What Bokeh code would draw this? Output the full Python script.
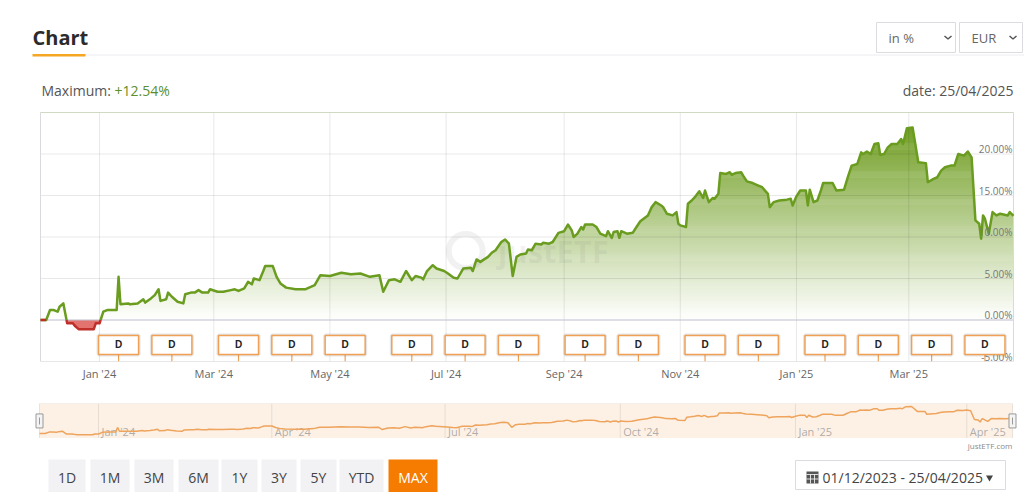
import numpy as np
import pandas as pd
from bokeh.plotting import figure
from bokeh.models import Range1d, FixedTicker
from bokeh.layouts import column
from bokeh.embed import file_html
from bokeh.resources import INLINE
from bokeh.core.properties import value

# ---------------- data ----------------
START = "2023-12-01"
END = "2025-04-25"
day_offsets = [0, 3, 5, 7, 9, 10, 12, 14, 17, 18, 20, 28, 29, 31, 33, 35, 40, 41, 42, 46,
               47, 51, 54, 55, 58, 60, 62, 63, 66, 67, 69, 72, 75, 76, 79, 81, 83, 85, 88, 89,
               93, 96, 100, 102, 104, 107, 109, 111, 112, 115, 117, 118, 122, 124, 126, 129, 134, 139, 144, 147,
               152, 158, 163, 168, 173, 178, 180, 183, 186, 189, 192, 195, 197, 200, 201, 203, 206, 208, 212, 214,
               217, 219, 222, 226, 227, 229, 231, 235, 237, 239, 242, 244, 246, 248, 250, 252, 255, 256, 258, 260,
               263, 264, 267, 269, 272, 275, 277, 279, 280, 282, 284, 285, 286, 290, 292, 294, 297, 298, 300, 301,
               303, 304, 305, 308, 311, 313, 315, 319, 321, 323, 326, 327, 329, 332, 334, 335, 336, 339, 340, 342,
               344, 346, 348, 349, 351, 353, 354, 356, 357, 360, 362, 363, 365, 368, 369, 371, 374, 377, 379, 382,
               383, 385, 388, 392, 394, 395, 397, 399, 402, 403, 404, 406, 408, 410, 411, 416, 418, 422, 424, 426,
               429, 431, 432, 434, 436, 438, 440, 441, 443, 445, 447, 450, 452, 453, 455, 458, 461, 465, 466, 469,
               471, 473, 475, 478, 480, 482, 485, 487, 489, 491, 493, 494, 495, 496, 498, 500, 502, 504, 508, 509,
               511]
perf_pct = [0.0, 0.0, 1.2, 1.2, 1.0, 1.6, 2.0, -0.4, -0.4, -0.7, -1.1, -1.1, -0.4, -0.4, 1.0, 1.2, 1.2, 5.2, 1.9, 2.0,
            1.9, 2.0, 2.5, 2.1, 2.6, 3.0, 3.7, 2.3, 2.5, 3.3, 2.8, 2.2, 2.0, 3.1, 3.3, 3.3, 3.6, 3.3, 3.3, 3.7,
            3.4, 3.4, 3.6, 3.7, 3.5, 3.8, 4.6, 4.3, 5.0, 4.8, 5.9, 6.5, 6.5, 5.2, 4.4, 3.9, 3.7, 3.7, 4.2, 5.4,
            5.3, 5.7, 5.5, 5.6, 5.2, 5.4, 3.4, 4.8, 4.9, 4.6, 5.9, 4.8, 5.3, 5.1, 4.9, 5.9, 6.6, 6.2, 5.9, 5.6,
            5.1, 5.0, 6.2, 6.3, 5.9, 7.3, 7.0, 7.6, 8.1, 8.4, 9.4, 9.7, 9.2, 5.3, 7.6, 7.9, 8.0, 8.5, 8.4, 9.2,
            9.1, 9.3, 9.2, 9.4, 10.5, 10.7, 11.5, 10.8, 10.0, 10.4, 11.2, 10.9, 11.5, 11.5, 11.2, 10.4, 10.1, 10.7, 9.9, 10.6,
            10.7, 9.9, 10.7, 10.4, 10.5, 11.2, 11.9, 12.6, 13.6, 14.2, 13.8, 13.6, 12.8, 12.6, 13.0, 11.6, 11.4, 11.2, 14.0, 14.4,
            14.9, 15.5, 14.7, 15.6, 14.2, 14.7, 14.6, 15.2, 17.7, 17.6, 17.8, 17.5, 17.7, 17.8, 17.4, 16.7, 16.5, 16.2, 16.0, 15.2,
            13.6, 14.2, 14.4, 14.5, 14.6, 13.8, 14.9, 15.6, 15.6, 13.8, 15.7, 14.2, 14.4, 15.7, 16.5, 16.5, 15.6, 15.7, 17.2, 18.6,
            18.8, 20.2, 20.0, 20.3, 20.0, 21.2, 21.3, 19.9, 20.0, 20.8, 21.2, 21.2, 21.8, 21.2, 23.1, 23.2, 19.0, 18.9, 16.6, 17.0,
            17.2, 18.0, 18.4, 18.6, 18.6, 20.0, 19.8, 20.3, 19.6, 12.0, 11.6, 9.8, 12.6, 12.2, 10.4, 13.0, 12.6, 12.8, 12.6, 13.0,
            12.54]
dividend_dates = ["2024-01-11", "2024-02-08", "2024-03-14", "2024-04-11", "2024-05-09", "2024-06-13",
                  "2024-07-11", "2024-08-08", "2024-09-12", "2024-10-10", "2024-11-14", "2024-12-12",
                  "2025-01-16", "2025-02-13", "2025-03-13", "2025-04-10"]
y_ticks = [-5, 0, 5, 10, 15, 20]
y_tick_labels = ["-5.00%", "0.00%", "5.00%", "10.00%", "15.00%", "20.00%"]
x_tick_dates = ["2024-01-01", "2024-03-01", "2024-05-01", "2024-07-01", "2024-09-01",
                "2024-11-01", "2025-01-01", "2025-03-01"]
x_tick_labels = ["Jan '24", "Mar '24", "May '24", "Jul '24", "Sep '24", "Nov '24", "Jan '25", "Mar '25"]
nav_tick_dates = ["2024-01-01", "2024-04-01", "2024-07-01", "2024-10-01", "2025-01-01", "2025-04-01"]
nav_tick_labels = ["Jan '24", "Apr '24", "Jul '24", "Oct '24", "Jan '25", "Apr '25"]
range_buttons = ["1D", "1M", "3M", "6M", "1Y", "3Y", "5Y", "YTD", "MAX"]
max_label = "+12.54%"
date_label = "date: 25/04/2025"
period_label = "01/12/2023 - 25/04/2025"

FONT = value("Open Sans")
EPOCH = pd.Timestamp("1970-01-01")
MS = pd.Timedelta(milliseconds=1)
W = 1024


def to_ms(d):
    return ((pd.to_datetime(pd.Series(d)) - EPOCH) / MS).to_numpy(dtype=float)


start_ms = float(to_ms([START])[0])
end_ms = float(to_ms([END])[0])
xs = start_ms + np.array(day_offsets, dtype=float) * 86400000.0
ys = np.array(perf_pct, dtype=float)

# insert zero crossings so line zones split at the threshold
cx, cy = [xs[0]], [ys[0]]
for i in range(1, len(xs)):
    y0, y1 = ys[i - 1], ys[i]
    if (y0 < 0 < y1) or (y1 < 0 < y0):
        t = y0 / (y0 - y1)
        cx.append(xs[i - 1] + t * (xs[i] - xs[i - 1]))
        cy.append(0.0)
    cx.append(xs[i])
    cy.append(ys[i])
cx = np.array(cx)
cy = np.array(cy)


def padded_range(left_px, right_px):
    # the frame spans the full canvas width; map the data span onto [left_px, right_px]
    mpp = (end_ms - start_ms) / (right_px - left_px)
    return Range1d(start_ms - left_px * mpp, end_ms + (W - right_px) * mpp)


def bare(fig):
    fig.outline_line_color = None
    fig.grid.visible = False
    return fig


# ---------------- header ----------------
hdr = bare(figure(width=W, height=104, x_range=Range1d(0, W), y_range=Range1d(104, 0),
                  output_backend="svg", toolbar_location=None, x_axis_location=None,
                  y_axis_location=None, min_border=0))
hdr.text(x=[32], y=[37], text=["Chart"], text_font=FONT, text_font_size="20px",
         text_font_style="bold", text_color="#2b2b2b", text_baseline="middle")
hdr.segment(x0=[85], y0=[54.5], x1=[W], y1=[54.5], line_color="#ececf0", line_width=1)
hdr.segment(x0=[32], y0=[54.7], x1=[85], y1=[54.7], line_color="#f5a623", line_width=2.5)
hdr.quad(left=[876, 959], right=[955, 1022], top=[22, 22], bottom=[52, 52],
         fill_color="white", line_color="#dcdce0", line_width=1)
hdr.text(x=[888, 971], y=[37.5, 37.5], text=["in %", "EUR"], text_font=FONT, text_font_size="13px",
         text_color="#666666", text_baseline="middle")
hdr.multi_line(xs=[[944, 947.5, 951], [1009, 1012.5, 1016]], ys=[[35.5, 38.5, 35.5], [35.5, 38.5, 35.5]],
               line_color="#555555", line_width=1.5)
hdr.text(x=[41], y=[90], text=["Maximum:"], text_font=FONT, text_font_size="14px",
         text_color="#555555", text_baseline="middle")
hdr.text(x=[114], y=[90], text=[max_label], text_font=FONT, text_font_size="14px",
         text_color="#5d8f2b", text_baseline="middle")
hdr.text(x=[1013], y=[90], text=[date_label], text_font=FONT, text_font_size="14px",
         text_color="#555555", text_baseline="middle", text_align="right")

# ---------------- main chart ----------------
p = figure(width=W, height=286, x_axis_type="datetime",
           x_range=padded_range(40, 1013), y_range=Range1d(-5, 25),
           output_backend="svg", toolbar_location=None, y_axis_location=None,
           min_border_left=0, min_border_right=0, min_border_top=8, min_border_bottom=29)
p.grid.grid_line_color = None
p.outline_line_color = None

# vertical gradient fill (absolute to plot), then white mask above the line
n = 200
edges = np.linspace(0, 25, n + 1)
mids = (edges[:-1] + edges[1:]) / 2
G = np.array([104, 152, 22], dtype=float)
cols = []
for m in mids:
    t = m / 25.0
    c = 255 * (1 - t) + G * t
    cols.append("#%02x%02x%02x" % tuple(int(round(v)) for v in c))
p.quad(left=start_ms, right=end_ms, bottom=edges[:-1], top=edges[1:] + 0.06,
       fill_color=cols, line_color=None)
p.varea(x=cx, y1=cy, y2=25, fill_color="white")
p.varea(x=cx, y1=np.minimum(cy, 0), y2=0, fill_color="#dd5a55", fill_alpha=0.85)

# grid lines and plot border
xt = to_ms(x_tick_dates)
p.segment(x0=xt, y0=-5, x1=xt, y1=25, line_color="black", line_alpha=0.09, line_width=1)
p.segment(x0=start_ms, y0=y_ticks, x1=end_ms, y1=y_ticks, line_color="black", line_alpha=0.09, line_width=1)
p.segment(x0=[start_ms], y0=[0], x1=[end_ms], y1=[0], line_color="#c8c8d8", line_width=1)
p.quad(left=[start_ms], right=[end_ms], bottom=[-5], top=[25], fill_color=None,
       line_color="#d9d9de", line_width=1)

# watermark
span = end_ms - start_ms
p.scatter(x=[start_ms + 0.437 * span], y=[8.3], marker="circle", size=34, fill_color=None,
          line_color="#7a7a7a", line_alpha=0.10, line_width=6)
p.text(x=[start_ms + 0.47 * span], y=[8.3], text=["justETF"], text_font=FONT, text_font_size="31px",
       text_font_style="bold", text_color="#7a7a7a", text_alpha=0.10, text_baseline="middle")

# series line, split into positive / negative zones
p.line(x=cx, y=np.where(cy >= 0, cy, np.nan), line_color="#6a9c1f", line_width=2.5, line_join="round")
p.line(x=cx, y=np.where(cy <= 0, cy, np.nan), line_color="#c0302a", line_width=2.5, line_join="round")

# y labels inside the plot (right)
p.text(x=[end_ms] * len(y_ticks), y=y_ticks, text=y_tick_labels, text_font=FONT, text_font_size="10px",
       text_color="#777777", text_align="right", text_baseline="middle", x_offset=-1, y_offset=-5)

# dividend flags
dm = to_ms(dividend_dates)
p.segment(x0=dm, y0=-4.15, x1=dm, y1=-5, line_color="#f0a055", line_width=1.2)
p.rect(x=dm, y=-3.0, width=40, height=19, width_units="screen", height_units="screen",
       fill_color=None, line_color="black", line_alpha=0.10, line_width=4)
p.rect(x=dm, y=-3.0, width=40, height=19, width_units="screen", height_units="screen",
       fill_color="white", line_color="#f0a055", line_width=1.5)
p.text(x=dm, y=[-3.0] * len(dm), text=["D"] * len(dm), text_font=value("Liberation Sans"),
       text_font_size="10px", text_font_style="bold", text_color="#222222",
       text_align="center", text_baseline="middle")

# x axis
ax = p.xaxis[0]
ax.ticker = FixedTicker(ticks=list(xt))
ax.major_label_overrides = {float(t): lab for t, lab in zip(xt, x_tick_labels)}
ax.axis_line_color = None
ax.major_tick_line_color = None
ax.minor_tick_line_color = None
ax.major_tick_out = 0
ax.major_tick_in = 0
ax.major_label_standoff = 4
ax.major_label_text_font = "Open Sans"
ax.major_label_text_font_size = "11px"
ax.major_label_text_color = "#666666"

# ---------------- navigator ----------------
NY0, NY1 = -4.3, 25.8
nav = bare(figure(width=W, height=48, x_range=padded_range(39, 1012), y_range=Range1d(NY0, NY1),
                  output_backend="svg", toolbar_location=None, x_axis_location=None, y_axis_location=None,
                  min_border_left=0, min_border_right=0, min_border_top=13, min_border_bottom=0))
nav.quad(left=[start_ms], right=[end_ms], bottom=[NY0], top=[NY1], fill_color="#fdf1e6",
         line_color="#e8e2dc", line_width=1)
nt = to_ms(nav_tick_dates)
nav.segment(x0=nt, y0=NY0, x1=nt, y1=NY1, line_color="#e6dcd2", line_width=1)
nav.text(x=nt, y=[NY0] * len(nt), text=nav_tick_labels, text_font=FONT, text_font_size="11px",
         text_color="#9a9a9a", text_alpha=0.8, text_baseline="middle", x_offset=3, y_offset=-7)
nav.line(x=xs, y=ys, line_color="#eea45c", line_width=1.5)
nav.rect(x=[start_ms, end_ms], y=[10.8, 10.8], width=7, height=14, width_units="screen",
         height_units="screen", fill_color="#f4f4f4", line_color="#999999", line_width=1)
nav.rect(x=[start_ms, end_ms], y=[10.8, 10.8], width=1, height=7, width_units="screen",
         height_units="screen", fill_color="#999999", line_color=None)

# ---------------- buttons ----------------
btn = bare(figure(width=W, height=54, x_range=Range1d(0, W), y_range=Range1d(492, 438),
                  output_backend="svg", toolbar_location=None, x_axis_location=None,
                  y_axis_location=None, min_border=0))
btn.text(x=[1012], y=[444.5], text=["justETF.com"], text_font=FONT, text_font_size="8px",
         text_color="#8a8a8a", text_align="right", text_baseline="middle")
b_left = [48, 90, 134, 178, 221, 261, 300, 339, 388]
b_right = [85, 129, 173, 218, 257, 296, 336, 383, 437]
b_fill = ["#f2f2f5"] * 8 + ["#f57c00"]
b_text = ["#444444"] * 8 + ["#ffffff"]
btn.quad(left=b_left, right=b_right, top=459, bottom=500, fill_color=b_fill, line_color=None)
btn.text(x=[(a + b) / 2 for a, b in zip(b_left, b_right)], y=[476.5] * 9, text=range_buttons,
         text_font=FONT, text_font_size="14px", text_color=b_text, text_align="center",
         text_baseline="middle")
btn.quad(left=[795], right=[1005], top=[460], bottom=[489], fill_color="white",
         line_color="#dcdce0", line_width=1)
btn.quad(left=[806], right=[818], top=[471], bottom=[483], fill_color="#555555", line_color=None)
btn.segment(x0=[806, 806, 810, 814], y0=[474, 478.5, 474, 474], x1=[818, 818, 810, 814],
            y1=[474, 478.5, 483, 483], line_color="white", line_width=0.8)
btn.text(x=[822], y=[476.5], text=[period_label], text_font=FONT, text_font_size="14px",
         text_color="#444444", text_baseline="middle")
btn.scatter(x=[989], y=[477], marker="inverted_triangle", size=7, fill_color="#444444",
            line_color=None)

layout = column(hdr, p, nav, btn, spacing=0)
open("out.html", "w").write(file_html(layout, INLINE))
